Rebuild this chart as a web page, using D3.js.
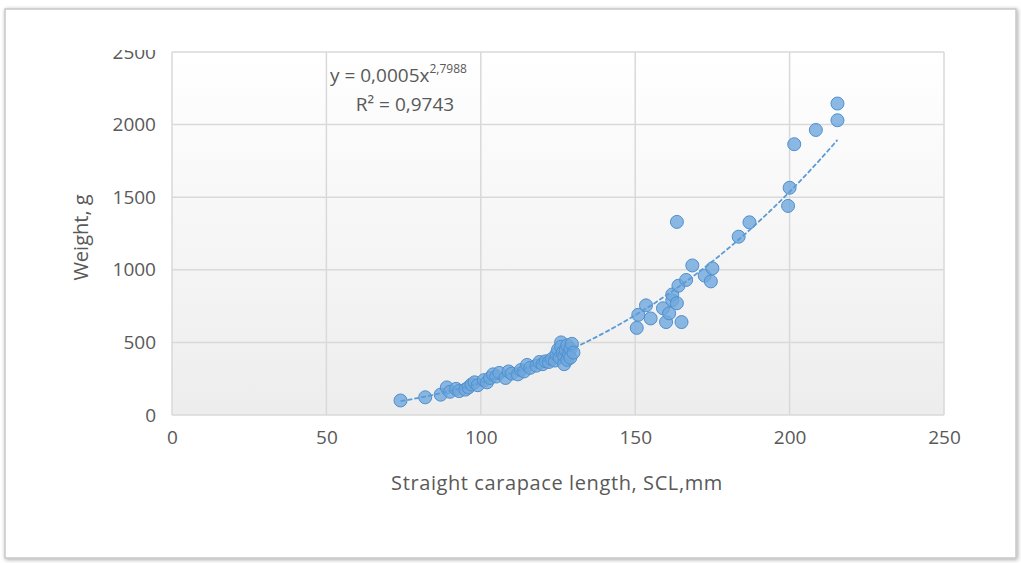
<!DOCTYPE html>
<html>
<head>
<meta charset="utf-8">
<script src="https://cdn.jsdelivr.net/npm/d3@7"></script>
<style>
  body { margin: 0; background: #fff; }
  text { font-family: "Open Sans", "Noto Sans", sans-serif; fill: #595959; }
</style>
</head>
<body>
<div id="chart"></div>
<script>
/* DATA */
// straight carapace length (mm) and weight (g)
const scl = [74, 82, 87, 89, 90, 92, 93, 95, 96, 97, 98, 99, 101, 102, 103, 104, 105, 106, 108, 109,
  110, 112, 113, 114, 115, 116, 118, 119, 120, 121, 122, 123, 124, 124.5, 125, 125.5, 126, 126, 126.5, 127,
  127, 127.5, 128, 128, 128.5, 129, 129, 129.5, 130,
  150.5, 151, 153.5, 155, 159, 160, 161, 162, 162, 163.5, 163.5, 164, 165, 166.5, 168.5, 172.5, 174.5, 175,
  183.5, 187, 199.5, 200, 201.5, 208.5, 215.5, 215.5];
const weight = [100, 122, 140, 190, 160, 180, 165, 175, 190, 210, 225, 205, 240, 225, 255, 280, 265, 290, 255, 300,
  285, 280, 310, 300, 345, 325, 340, 365, 350, 370, 365, 385, 375, 420, 450, 395, 500, 470, 430, 405,
  350, 445, 380, 480, 420, 455, 395, 490, 430,
  600, 690, 755, 665, 735, 640, 700, 790, 830, 770, 1330, 890, 640, 930, 1030, 960, 920, 1010,
  1228, 1327, 1440, 1565, 1865, 1963, 2030, 2145];

const xTicks = [0, 50, 100, 150, 200, 250];
const yTicks = [0, 500, 1000, 1500, 2000, 2500];

// power trendline y = a * x^b
const trendA = 0.000558, trendB = 2.7988;
const trendRange = [74, 215.5];

const W = 1021, H = 563;
const plot = { left: 172, right: 944, top: 52, bottom: 415 };

const svg = d3.select("#chart").append("svg")
  .attr("width", W).attr("height", H);

const defs = svg.append("defs");
const grad = defs.append("linearGradient").attr("id", "bg")
  .attr("x1", 0).attr("y1", 0).attr("x2", 0).attr("y2", 1);
grad.append("stop").attr("offset", "0%").attr("stop-color", "#ffffff");
grad.append("stop").attr("offset", "100%").attr("stop-color", "#ededed");

// the top of the "2500" label is hidden in the original
defs.append("clipPath").attr("id", "topclip")
  .append("rect").attr("x", -300).attr("y", 50).attr("width", W).attr("height", H);

const shadow = defs.append("filter").attr("id", "shadow")
  .attr("x", "-2%").attr("y", "-2%").attr("width", "104%").attr("height", "104%");
shadow.append("feGaussianBlur").attr("in", "SourceAlpha").attr("stdDeviation", 2);
shadow.append("feOffset").attr("dx", 1).attr("dy", 1).attr("result", "b");
shadow.append("feComponentTransfer").append("feFuncA").attr("type", "linear").attr("slope", 0.35);
const merge = shadow.append("feMerge");
merge.append("feMergeNode");
merge.append("feMergeNode").attr("in", "SourceGraphic");

// outer chart frame
svg.append("rect")
  .attr("x", 5).attr("y", 9).attr("width", 1011).attr("height", 549)
  .attr("fill", "#fff").attr("stroke", "#c8c8c8").attr("stroke-width", 1.5)
  .attr("filter", "url(#shadow)");

/* SCALES */
const x = d3.scaleLinear().domain([0, 250]).range([plot.left, plot.right]);
const y = d3.scaleLinear().domain([0, 2500]).range([plot.bottom, plot.top]);

// plot area background
svg.append("rect")
  .attr("x", plot.left).attr("y", plot.top)
  .attr("width", plot.right - plot.left).attr("height", plot.bottom - plot.top)
  .attr("fill", "url(#bg)");

// gridlines
svg.append("g").selectAll("line").data(yTicks).join("line")
  .attr("x1", plot.left).attr("x2", plot.right)
  .attr("y1", d => y(d)).attr("y2", d => y(d))
  .attr("stroke", "#d9d9d9").attr("stroke-width", 1.5);
svg.append("g").selectAll("line").data(xTicks).join("line")
  .attr("x1", d => x(d)).attr("x2", d => x(d))
  .attr("y1", plot.top).attr("y2", plot.bottom)
  .attr("stroke", "#d9d9d9").attr("stroke-width", 1.5);

/* AXES */
const xAxis = svg.append("g")
  .attr("transform", `translate(0,${plot.bottom})`)
  .call(d3.axisBottom(x).tickValues(xTicks).tickFormat(d3.format("d")).tickSize(0).tickPadding(16));
const yAxis = svg.append("g")
  .attr("transform", `translate(${plot.left},0)`)
  .attr("clip-path", "url(#topclip)")
  .call(d3.axisLeft(y).tickValues(yTicks).tickFormat(d3.format("d")).tickSize(0).tickPadding(16));
[xAxis, yAxis].forEach(g => {
  g.select(".domain").remove();
  g.selectAll("text").attr("font-size", 19).attr("fill", "#595959")
    .attr("font-family", "'Open Sans', sans-serif");
});

// axis titles
svg.append("text")
  .attr("x", 557).attr("y", 490)
  .attr("text-anchor", "middle").attr("font-size", 20)
  .attr("letter-spacing", 0.6)
  .text("Straight carapace length, SCL,mm");

svg.append("text")
  .attr("transform", `translate(88,${(plot.top + plot.bottom) / 2 + 4}) rotate(-90)`)
  .attr("text-anchor", "middle").attr("font-size", 20)
  .text("Weight, g");

/* POINTS */
const data = scl.map((d, i) => ({ x: d, y: weight[i] }));
svg.append("g").selectAll("circle").data(data).join("circle")
  .attr("cx", d => x(d.x)).attr("cy", d => y(d.y)).attr("r", 6.5)
  .attr("fill", "#6fa8dc").attr("fill-opacity", 0.8)
  .attr("stroke", "#4f8fcf").attr("stroke-width", 1);

/* TRENDLINE */
const trendX = d3.range(trendRange[0], trendRange[1], 1).concat([trendRange[1]]);
svg.append("path")
  .datum(trendX)
  .attr("fill", "none").attr("stroke", "#5b9bd5").attr("stroke-width", 1.8)
  .attr("stroke-dasharray", "5,2")
  .attr("d", d3.line().x(d => x(d)).y(d => y(trendA * Math.pow(d, trendB))));

/* EQUATION LABEL */
const eq = svg.append("text").attr("x", 330).attr("y", 82)
  .attr("font-size", 19);
eq.append("tspan").text("y = 0,0005x");
eq.append("tspan").attr("dy", -9).attr("font-size", 12).text("2,7988");
svg.append("text").attr("x", 405).attr("y", 111)
  .attr("text-anchor", "middle").attr("font-size", 19)
  .text("R² = 0,9743");
</script>
</body>
</html>
